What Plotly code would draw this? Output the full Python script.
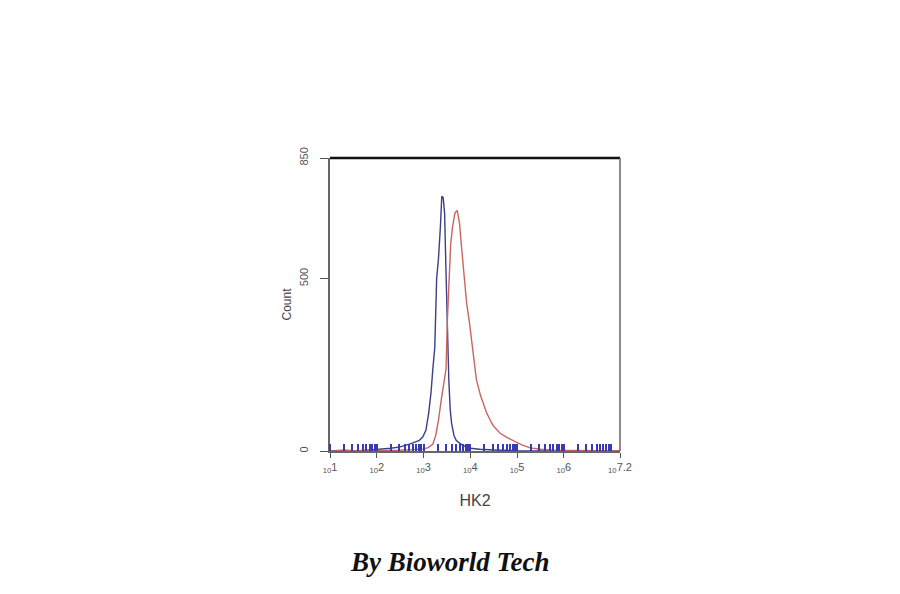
import plotly.graph_objects as go

# Histogram data (x as log10 of HK2 intensity, y as Count)
blue_logx = [1.0, 1.3, 1.6, 1.9, 2.1, 2.3, 2.5, 2.6, 2.7, 2.8, 2.9, 2.98, 3.05, 3.11, 3.16, 3.20,
             3.24, 3.28, 3.32, 3.36, 3.39, 3.42, 3.45, 3.48, 3.51, 3.54, 3.57, 3.60, 3.65, 3.70,
             3.80, 3.90, 4.0, 4.2, 4.5, 5.0, 6.0, 7.2]
blue_count = [0, 2, 0, 3, 5, 8, 12, 15, 20, 25, 30, 40, 60, 110, 170, 240,
              300, 500, 560, 650, 739, 735, 690, 520, 330, 207, 120, 80, 45, 30,
              20, 12, 8, 5, 3, 1, 0, 0]

red_logx = [1.0, 2.0, 2.5, 2.8, 3.0, 3.1, 3.2, 3.26, 3.32, 3.38, 3.44, 3.48, 3.51, 3.54, 3.58,
            3.62, 3.67, 3.72, 3.77, 3.82, 3.87, 3.92, 3.98, 4.05, 4.13, 4.22, 4.35, 4.48, 4.63,
            4.77, 4.91, 5.1, 5.28, 5.5, 5.8, 6.2, 7.2]
red_count = [0, 0, 2, 4, 6, 10, 20, 45, 90, 150, 210, 237, 380, 500, 600,
             650, 690, 698, 660, 580, 500, 430, 374, 290, 207, 160, 110, 75, 52,
             40, 30, 18, 9, 5, 2, 1, 0]

x_tick_exp = [1, 2, 3, 4, 5, 6, 7.2]
x_tick_text = ["1", "2", "3", "4", "5", "6", "7.2"]
y_tick_vals = [0, 500, 850]
y_tick_text = ["0", "500", "850"]

fig = go.Figure()
fig.add_trace(go.Scatter(x=[10 ** v for v in blue_logx], y=blue_count, mode="lines",
                         line=dict(color="#3b3f86", width=1.4), showlegend=False))
fig.add_trace(go.Scatter(x=[10 ** v for v in red_logx], y=red_count, mode="lines",
                         line=dict(color="#c8665e", width=1.4), showlegend=False))

fig.update_xaxes(
    type="log", range=[1, 7.2], automargin=False,
    tickvals=[10 ** e for e in x_tick_exp],
    ticktext=["<sub>10</sub>%s" % t for t in x_tick_text],
    tickfont=dict(family="Liberation Sans", size=11, color="#555555"),
    ticks="outside", ticklen=5, tickcolor="#555555",
    showline=True, linecolor="#666666", linewidth=1.5,
    showgrid=False, zeroline=False,
    minor=dict(dtick="D1", ticks="inside", ticklen=7, tickcolor="#3a3ab0", tickwidth=1.5, showgrid=False),
    title=dict(text="HK2", font=dict(family="Liberation Sans", size=16, color="#444444"), standoff=21),
)
fig.update_yaxes(
    range=[0, 850], tickvals=y_tick_vals, ticktext=y_tick_text, tickangle=-90, automargin=False,
    tickfont=dict(family="Liberation Sans", size=11, color="#555555"),
    ticks="outside", ticklen=8, tickcolor="#555555", ticklabelstandoff=8,
    showline=True, linecolor="#666666", linewidth=1.5,
    showgrid=False, zeroline=False,
    title=dict(text="Count", font=dict(family="Liberation Sans", size=12, color="#444444"), standoff=4),
)

# frame: thick top border and right border
fig.add_shape(type="line", xref="paper", yref="paper", x0=0, x1=1, y0=1, y1=1,
              line=dict(color="#111111", width=2.5))
fig.add_shape(type="line", xref="paper", yref="paper", x0=1, x1=1, y0=0, y1=1,
              line=dict(color="#666666", width=1.5))

fig.add_annotation(text="<b><i>By Bioworld Tech</i></b>", xref="paper", yref="paper",
                   x=0.414, y=-0.38, showarrow=False, xanchor="center", yanchor="middle",
                   font=dict(family="Liberation Serif", size=27, color="#111111"))

fig.update_layout(
    width=900, height=594,
    margin=dict(l=322, r=288, t=150, b=151),
    paper_bgcolor="white", plot_bgcolor="white",
)

fig.write_html("out.html")
